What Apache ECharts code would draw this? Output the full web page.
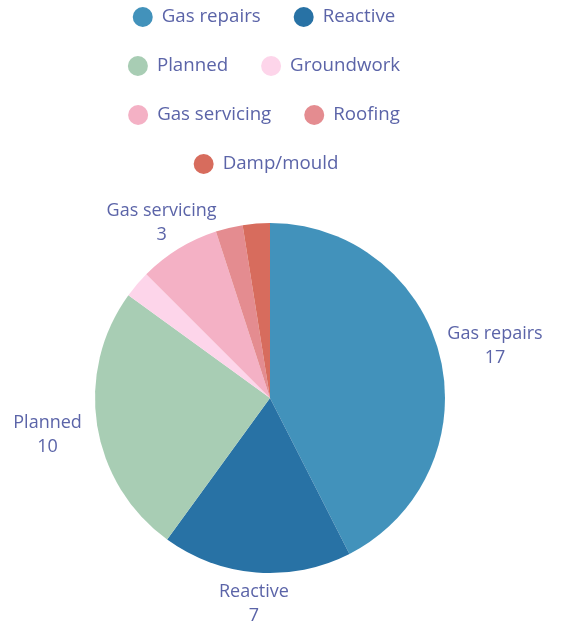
<!DOCTYPE html>
<html>
<head>
<meta charset="utf-8">
<script src="https://cdn.jsdelivr.net/npm/echarts@6/dist/echarts.min.js"></script>
<style>
html, body { margin: 0; padding: 0; background: #fff; }
#main { width: 561px; height: 622px; }
</style>
</head>
<body>
<div id="main"></div>
<script>
var categories = ['Gas repairs', 'Reactive', 'Planned', 'Groundwork', 'Gas servicing', 'Roofing', 'Damp/mould'];
var values = [17, 7, 10, 1, 3, 1, 1];
var colors = ['#4292bb', '#2872a5', '#a8cdb4', '#fdd5ea', '#f4b1c5', '#e48c90', '#d76c5d'];
var legendRowSizes = [2, 2, 2, 1];

var textColor = '#5b64a8';
var fontFamily = '"Open Sans", sans-serif';
var legendFontSize = 18.7;
var LINE_LEN = 10;

var chart = echarts.init(document.getElementById('main'), null, { renderer: 'canvas' });

// measure legend text to centre each legend row on the pie
var measureCtx = document.createElement('canvas').getContext('2d');
measureCtx.font = legendFontSize + 'px ' + fontFamily;
var ITEM_W = 28, ITEM_GAP = 33, LEG_PAD = 5, ICON_INSET = 4, ROW_CENTER = 270;

var legends = [];
var start = 0;
legendRowSizes.forEach(function (n, i) {
  var names = categories.slice(start, start + n);
  var w = 0;
  names.forEach(function (nm, j) {
    w += ITEM_W + 5 + measureCtx.measureText(nm).width;
    if (j > 0) w += ITEM_GAP;
  });
  var visualW = w - ICON_INSET;
  legends.push({
    data: names,
    left: ROW_CENTER - visualW / 2 - ICON_INSET - LEG_PAD,
    top: 2 + i * 49,
    padding: LEG_PAD,
    orient: 'horizontal',
    icon: 'circle',
    itemWidth: ITEM_W,
    itemHeight: 20,
    itemGap: ITEM_GAP,
    selectedMode: false,
    textStyle: { color: textColor, fontSize: legendFontSize, fontFamily: fontFamily }
  });
  start += n;
});

var pieData = categories.map(function (c, i) {
  return { name: c, value: values[i], itemStyle: { color: colors[i] } };
});

chart.setOption({
  animation: false,
  legend: legends,
  series: [{
    type: 'pie',
    center: [270, 398],
    radius: 175,
    startAngle: 90,
    clockwise: true,
    avoidLabelOverlap: false,
    minShowLabelAngle: 10,
    data: pieData,
    itemStyle: { borderWidth: 0 },
    label: {
      show: true,
      position: 'outside',
      formatter: '{b}\n{c}',
      color: textColor,
      fontSize: 18,
      fontFamily: fontFamily,
      lineHeight: 24,
      align: 'center'
    },
    labelLine: {
      show: true,
      length: LINE_LEN,
      length2: 0,
      lineStyle: { opacity: 0, width: 0 }
    },
    labelLayout: function (p) {
      var pts = p.labelLinePoints;
      if (!pts || pts.length < 2) return {};
      var dx = (pts[1][0] - pts[0][0]) / LINE_LEN;
      var dy = (pts[1][1] - pts[0][1]) / LINE_LEN;
      var w = p.labelRect.width, h = p.labelRect.height;
      var d = 6 + h / 2 + 0.62 * Math.pow(dx, 4) * w / 2;
      return {
        x: pts[0][0] + dx * d,
        y: pts[0][1] + dy * d + 2,
        align: 'center',
        verticalAlign: 'middle'
      };
    },
    emphasis: { disabled: true }
  }]
});
</script>
</body>
</html>
